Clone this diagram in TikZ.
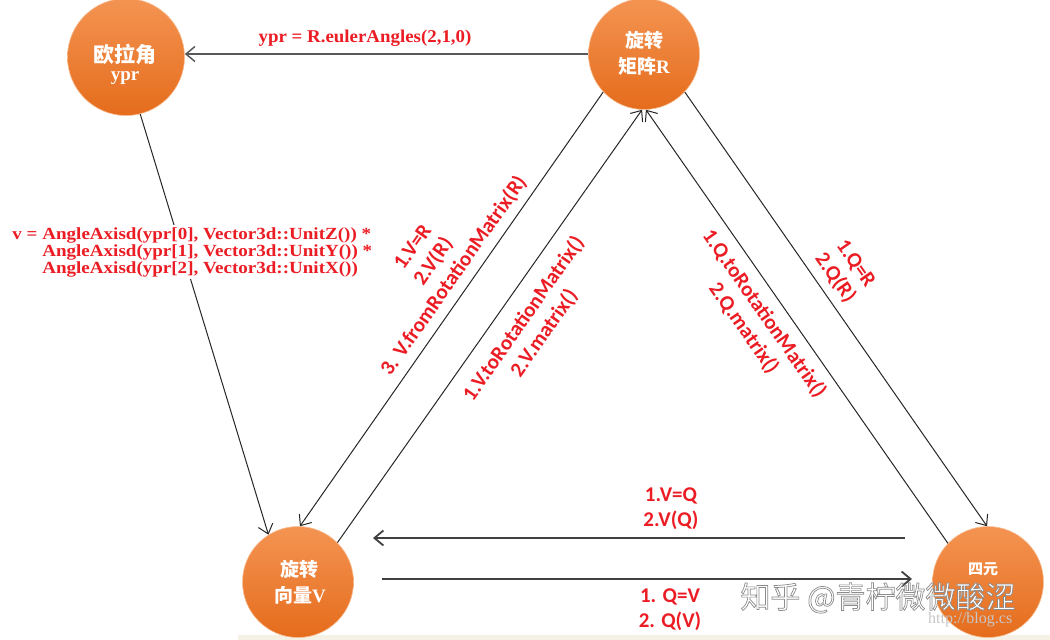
\documentclass[tikz,border=0pt]{standalone}
\usepackage{fontspec}
\setmainfont{Liberation Serif}
\newfontfamily\calfont{Carlito}
\newfontfamily\cjkfont{Noto Sans CJK SC}
\usetikzlibrary{arrows.meta}
\definecolor{lblred}{RGB}{235,28,36}
\definecolor{orbtop}{RGB}{244,148,82}
\definecolor{orbbot}{RGB}{229,108,28}
\definecolor{beige}{RGB}{245,241,228}
\newcommand{\outlinetext}[1]{\special{pdf:literal direct q 2 Tr 0.7 w 0.55 G}#1\special{pdf:literal direct 0 Tr Q}}
\begin{document}
\begin{tikzpicture}[x=1pt,y=-1pt,
  orb/.style={circle,minimum size=111pt,inner sep=0pt,top color=orbtop,bottom color=orbbot,draw=orbtop!60!white,line width=0.6pt},
  orbtxt/.style={text=white,font=\bfseries\fontsize{19}{22}\selectfont,inner sep=0pt},
  conn/.style={draw=black!85,line width=1pt,-{Straight Barb[length=9pt,width=15pt]}},
  hconn/.style={conn,line width=1.8pt,draw=black!75},
  lbl/.style={text=lblred,font=\calfont\bfseries\fontsize{21}{25}\selectfont,align=center,inner sep=1pt},
  slbl/.style={text=lblred,font=\bfseries\fontsize{17}{17}\selectfont,inner sep=1pt}]
\useasboundingbox (0,0) rectangle (1050,640);
\begin{scope}
\clip (0,0) rectangle (1050,640);
\fill[beige] (238,635) rectangle (1050,640);
% circles
\node[orb,minimum size=117pt] (E) at (126,57) {};
\node[orb] (R) at (644,54) {};
\node[orb] (V) at (298,582) {};
\node[orb] (Q) at (988,582) {};
% circle texts
\node[orbtxt,font=\cjkfont\bfseries\fontsize{21}{24}\selectfont] (Et1) at (125,54) {欧拉角};
\node[orbtxt,font=\bfseries\fontsize{19}{22}\selectfont] (Et2) at (125,78) {ypr};
\node[orbtxt] (Rt1) at (644,40) {\cjkfont 旋转};
\node[orbtxt] (Rt2) at (644,66) {{\cjkfont 矩阵}R};
\node[orbtxt] (Vt1) at (299,569) {\cjkfont 旋转};
\node[orbtxt] (Vt2) at (300,595) {{\cjkfont 向量}V};
\node[orbtxt,font=\cjkfont\bfseries\fontsize{15}{18}\selectfont] (Qt1) at (983,569) {四元};
% connectors
\draw[conn,line width=1.5pt,draw=black!65] (R.west) -- (R.west -| E.east);
\draw[conn] (E.-76) -- (V.122);
\draw[conn] (R.223) -- (V.88);
\draw[conn] (V.45) -- (R.268);
\draw[conn] (Q.136) -- (R.272);
\draw[conn] (R.-43) -- (Q.91);
\coordinate (h1s) at (905,538);
\coordinate (h1e) at (373,538);
\draw[hconn] (h1s) -- (h1e);
\coordinate (h2s) at (382,579);
\coordinate (h2e) at (912,579);
\draw[hconn] (h2s) -- (h2e);
% labels
\node[slbl,font=\bfseries\fontsize{18}{18}\selectfont,xscale=1.05] (l7) at (365,38) {ypr = R.eulerAngles(2,1,0)};
\node[slbl,anchor=west,align=left,xscale=1.12,fill=white,inner sep=2pt] (l8) at (10,252) {v = AngleAxisd(ypr[0], Vector3d::UnitZ()) *\\\phantom{v = }AngleAxisd(ypr[1], Vector3d::UnitY()) *\\\phantom{v = }AngleAxisd(ypr[2], Vector3d::UnitX())};
\node[lbl,rotate=55] (l1) at (434,262) {1.V=R\\2.V(R)\\3. V.fromRotationMatrix(R)};
\node[lbl,rotate=55] (l2) at (534,326) {1.V.toRotationMatrix()\\2.V.matrix()};
\node[lbl,rotate=-55] (l3) at (754,321) {1.Q.toRotationMatrix()\\2.Q.matrix()};
\node[lbl,rotate=-55] (l4) at (845,271) {1.Q=R\\2.Q(R)};
\node[lbl] (l5) at (671,509) {1.V=Q\\2.V(Q)};
\node[lbl] (l6) at (670,610) {1. Q=V\\2. Q(V)};
% watermark
\node[text=black!22,font=\fontsize{16}{16}\selectfont,anchor=west,inner sep=0pt] (wm2) at (928,620) {http://blog.cs};
\node[text=white,font=\cjkfont\fontsize{30}{30}\selectfont,inner sep=0pt] (wm1) at (878,598) {\outlinetext{知乎 @青柠微微酸涩}};
\end{scope}
\end{tikzpicture}
\end{document}
